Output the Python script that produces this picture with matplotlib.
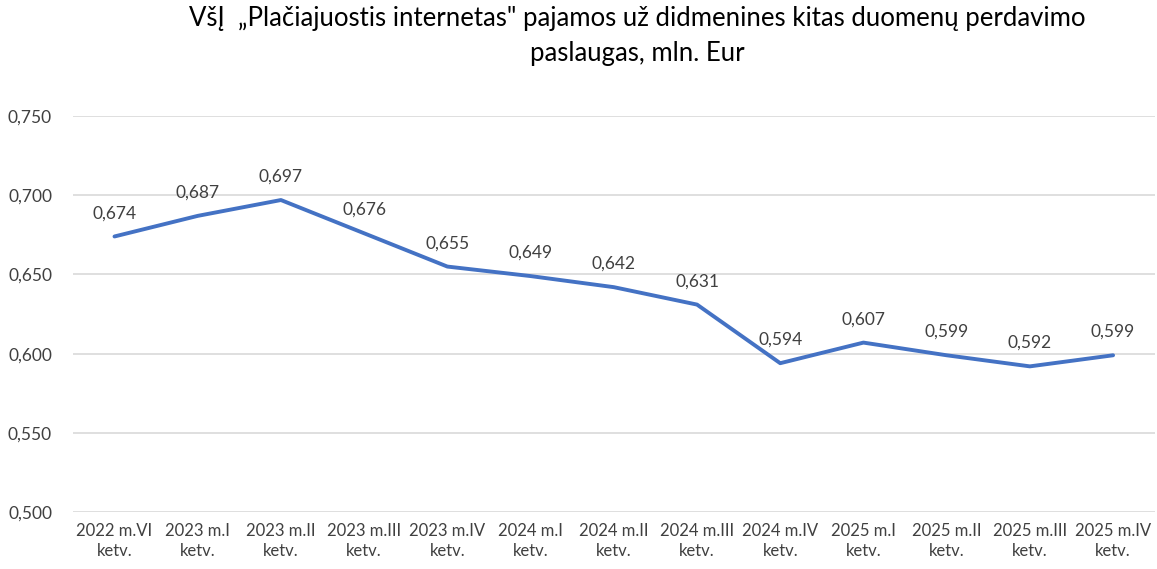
import numpy as np
import matplotlib
matplotlib.use("Agg")
from matplotlib import pyplot as plt

plt.rcParams['font.family'] = ['Lato', 'DejaVu Sans']

labels = ["2022 m.VI\nketv.", "2023 m.I\nketv.", "2023 m.II\nketv.", "2023 m.III\nketv.",
          "2023 m.IV\nketv.", "2024 m.I\nketv.", "2024 m.II\nketv.", "2024 m.III\nketv.",
          "2024 m.IV\nketv.", "2025 m.I\nketv.", "2025 m.II\nketv.", "2025 m.III\nketv.",
          "2025 m.IV\nketv."]
values = [0.674, 0.687, 0.697, 0.676, 0.655, 0.649, 0.642, 0.631, 0.594, 0.607, 0.599, 0.592, 0.599]
yticks = [0.500, 0.550, 0.600, 0.650, 0.700, 0.750]

fig = plt.figure(figsize=(11.57, 5.69), dpi=100)
ax = fig.add_axes([0.063, 0.100, 0.935, 0.696])

x = np.arange(len(values))
ax.plot(x, values, color='#4472C4', linewidth=2.8, solid_capstyle='round', zorder=3)
for xi, v in zip(x, values):
    ax.annotate(("%.3f" % v).replace('.', ','), (xi, v), xytext=(0, 11),
                textcoords='offset points', ha='center', va='bottom',
                fontsize=12.5, color='#404040')

ax.set_xlim(-0.5, len(values) - 0.5)
ax.set_ylim(0.5, 0.75)
ax.set_yticks(yticks)
ax.set_yticklabels([("%.3f" % t).replace('.', ',') for t in yticks])
ax.set_xticks(x)
ax.set_xticklabels(labels, fontsize=12, linespacing=1.3)
ax.tick_params(axis='both', length=0, colors='#404040')
ax.tick_params(axis='y', labelsize=12.5, pad=15)
ax.tick_params(axis='x', pad=8)
ax.grid(axis='y', color='#d9d9d9', linewidth=1.2)
ax.set_axisbelow(True)
for s in ax.spines.values():
    s.set_visible(False)

fig.text(0.551, 0.99, 'VšĮ  „Plačiajuostis internetas" pajamos už didmenines kitas duomenų perdavimo\npaslaugas, mln. Eur',
         ha='center', va='top', fontsize=18.5, linespacing=1.5, color='#000000')

fig.savefig('out.png', dpi=100)
